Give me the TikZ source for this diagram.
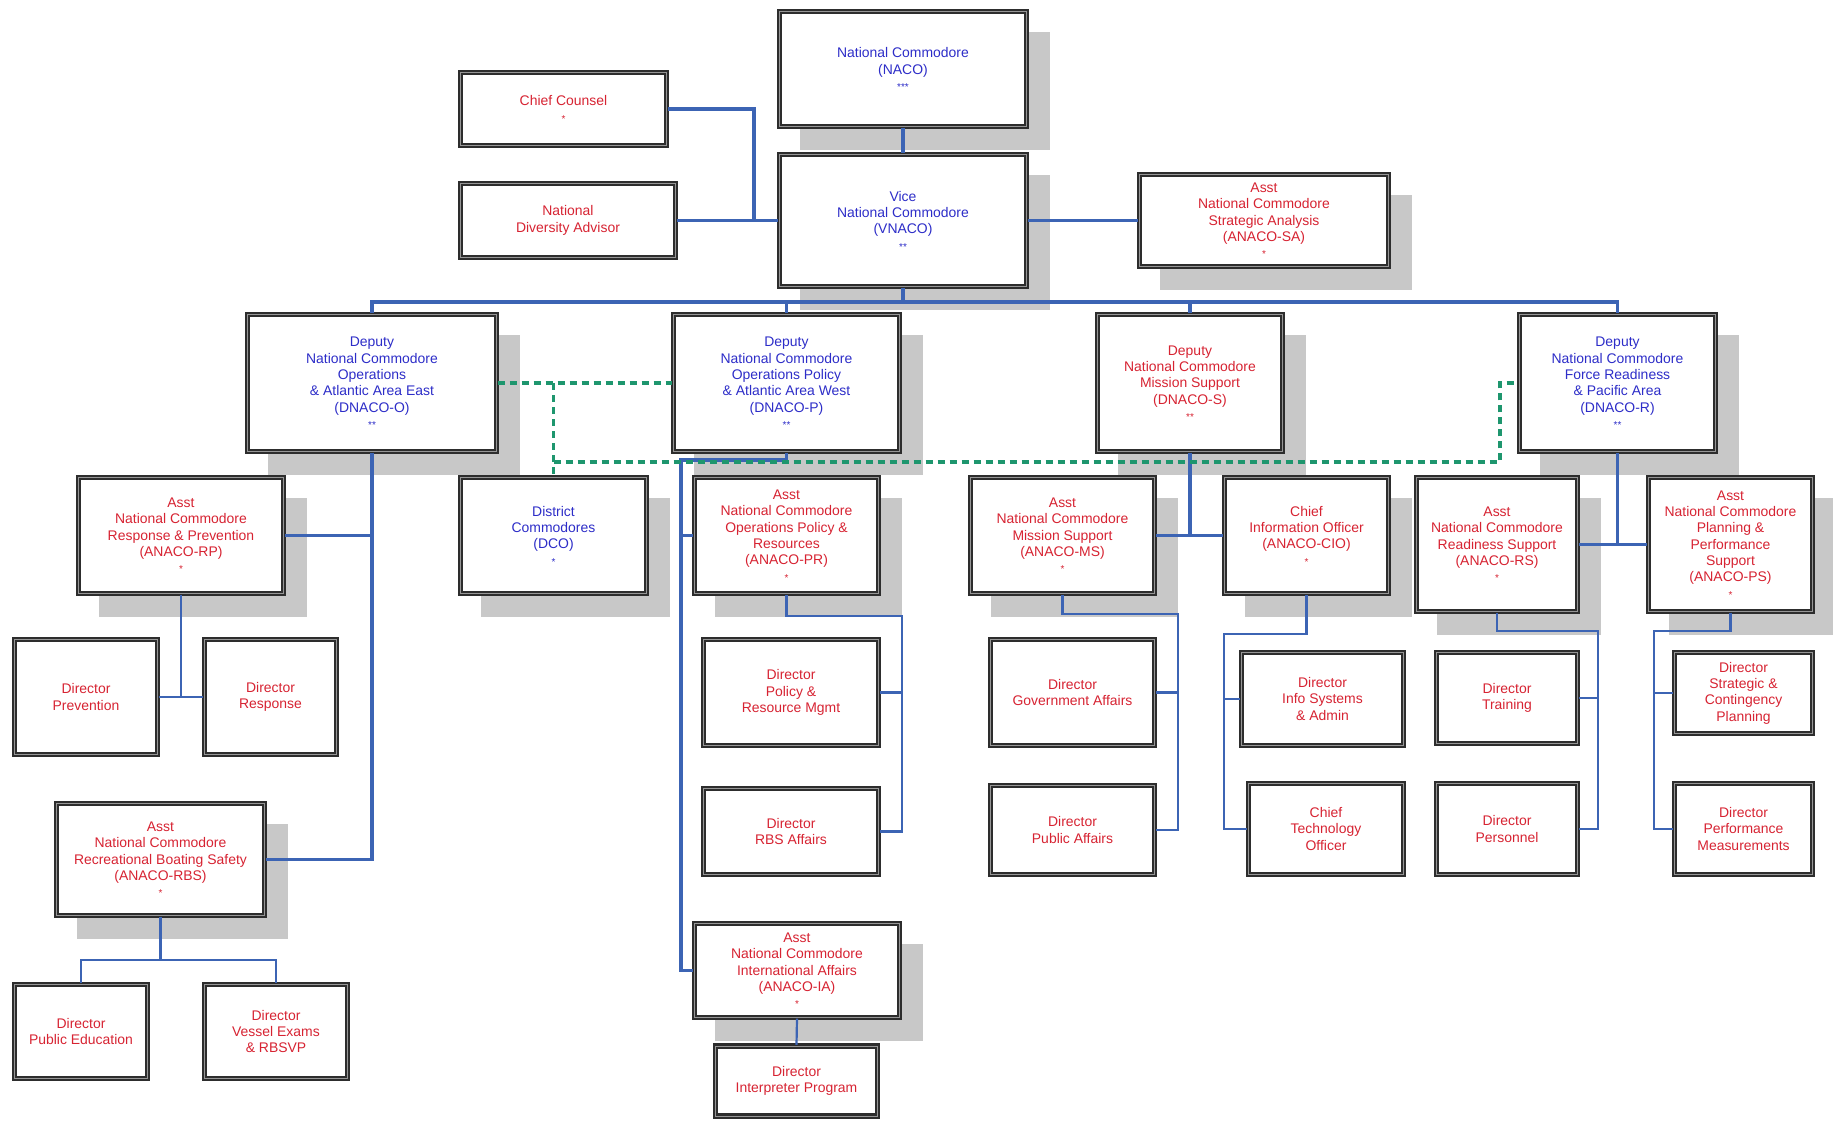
\documentclass[tikz,border=0pt]{standalone}
\usepackage{fontspec}
\setmainfont{Liberation Sans}
\usetikzlibrary{calc}
\pgfdeclarelayer{background}
\pgfsetlayers{background,main}
\definecolor{tblue}{RGB}{45,45,200}
\definecolor{tred}{RGB}{215,35,50}
\definecolor{lblue}{RGB}{60,100,180}
\definecolor{lgreen}{RGB}{30,150,110}
\definecolor{shad}{RGB}{200,200,200}
\definecolor{framec}{RGB}{45,45,45}
\definecolor{frameinc}{RGB}{150,150,150}
\newcommand{\st}[1]{{\fontsize{10}{10}\selectfont #1}}
\begin{document}
\begin{tikzpicture}[x=1bp,y=-1bp,
 box/.style={draw=framec, double=frameinc, double distance=1bp, line width=2.2bp, fill=white, align=center, inner sep=2bp, font=\fontsize{14}{16.4}\selectfont},
 bb/.style={box, text=tblue},
 rb/.style={box, text=tred},
 sz/.style 2 args={minimum width=#1bp, minimum height=#2bp},
 conn/.style={draw=lblue, line width=3.5bp},
 thinc/.style={draw=lblue, line width=2.2bp},
 gdash/.style={draw=lgreen, line width=3.5bp, dash pattern=on 7bp off 5bp},
 shadowbox/.style={fill=shad}
]
\useasboundingbox (0,0) rectangle (1833,1120);

% level 0/1
\node[bb, sz={247}{115}] (naco) at (903,69) {National Commodore\\(NACO)\\\st{***}};
\node[bb, sz={247}{132}] (vnaco) at (903,220.5) {Vice\\National Commodore\\(VNACO)\\\st{**}};
\node[rb, sz={206}{73}] (cc) at (563.5,109) {Chief Counsel\\\st{*}};
\node[rb, sz={215}{74}] (nda) at (568,220.5) {National\\Diversity Advisor};
\node[rb, sz={249}{92}] (sa) at (1264,220.5) {Asst\\National Commodore\\Strategic Analysis\\(ANACO-SA)\\\st{*}};

% deputies
\node[bb, sz={249}{137}] (dno) at (372,383) {Deputy\\National Commodore\\Operations\\\& Atlantic Area East\\(DNACO-O)\\\st{**}};
\node[bb, sz={226}{137}] (dnp) at (786.5,383) {Deputy\\National Commodore\\Operations Policy\\\& Atlantic Area West\\(DNACO-P)\\\st{**}};
\node[rb, sz={185}{137}] (dns) at (1190,383) {Deputy\\National Commodore\\Mission Support\\(DNACO-S)\\\st{**}};
\node[bb, sz={196}{137}] (dnr) at (1617.5,383) {Deputy\\National Commodore\\Force Readiness\\\& Pacific Area\\(DNACO-R)\\\st{**}};

% row 3
\node[rb, sz={205}{116}] (rp) at (181,535.5) {Asst\\National Commodore\\Response \& Prevention\\(ANACO-RP)\\\st{*}};
\node[bb, sz={186}{116}] (dco) at (553.5,535.5) {District\\Commodores\\(DCO)\\\st{*}};
\node[rb, sz={184}{116}] (pr) at (786.5,535.5) {Asst\\National Commodore\\Operations Policy \&\\Resources\\(ANACO-PR)\\\st{*}};
\node[rb, sz={184}{116}] (ms) at (1062.5,535.5) {Asst\\National Commodore\\Mission Support\\(ANACO-MS)\\\st{*}};
\node[rb, sz={164}{116}] (cio) at (1306.5,535.5) {Chief\\Information Officer\\(ANACO-CIO)\\\st{*}};
\node[rb, sz={161}{134}] (rs) at (1497,544.5) {Asst\\National Commodore\\Readiness Support\\(ANACO-RS)\\\st{*}};
\node[rb, sz={164}{134}] (ps) at (1730.5,544.5) {Asst\\National Commodore\\Planning \&\\Performance\\Support\\(ANACO-PS)\\\st{*}};

% directors row 4
\node[rb, sz={143}{115}] (dprev) at (86,697) {Director\\Prevention};
\node[rb, sz={132}{115}] (dresp) at (270.5,697) {Director\\Response};
\node[rb, sz={175}{106}] (dpol) at (791,692.5) {Director\\Policy \&\\Resource Mgmt};
\node[rb, sz={164}{106}] (dgov) at (1072.5,692.5) {Director\\Government Affairs};
\node[rb, sz={162}{93}] (dinfo) at (1322.5,699) {Director\\Info Systems\\\& Admin};
\node[rb, sz={141}{91}] (dtrain) at (1507,698) {Director\\Training};
\node[rb, sz={138}{81}] (dstrat) at (1743.5,693) {Director\\Strategic \&\\Contingency\\Planning};

% directors row 5
\node[rb, sz={175}{86}] (drbs) at (791,831.5) {Director\\RBS Affairs};
\node[rb, sz={164}{89}] (dpub) at (1072.5,830) {Director\\Public Affairs};
\node[rb, sz={155}{91}] (cto) at (1326,829) {Chief\\Technology\\Officer};
\node[rb, sz={141}{91}] (dpers) at (1507,829) {Director\\Personnel};
\node[rb, sz={138}{91}] (dperf) at (1743.5,829) {Director\\Performance\\Measurements};

% lower left / centre
\node[rb, sz={208}{112}] (rbs) at (160.5,859.5) {Asst\\National Commodore\\Recreational Boating Safety\\(ANACO-RBS)\\\st{*}};
\node[rb, sz={205}{94}] (ia) at (797,970.5) {Asst\\National Commodore\\International Affairs\\(ANACO-IA)\\\st{*}};
\node[rb, sz={133}{94}] (dpe) at (81,1031.5) {Director\\Public Education};
\node[rb, sz={143}{94}] (dve) at (276,1031.5) {Director\\Vessel Exams\\\& RBSVP};
\node[rb, sz={162}{70}] (dint) at (796.5,1081) {Director\\Interpreter Program};

% shadows and background
\begin{pgfonlayer}{background}
\fill[white] (0,0) rectangle (1833,1120);
\foreach \n in {naco,vnaco,sa,dno,dnp,dns,dnr,rp,dco,pr,ms,cio,rs,ps,rbs,ia}{
  \fill[shadowbox] ([xshift=22bp,yshift=-22bp]\n.south west) rectangle ([xshift=22bp,yshift=-22bp]\n.north east);
}
\end{pgfonlayer}

% junction coordinates
\coordinate (jcc) at (754,220.5);
\coordinate (bus) at (903,302);
\coordinate (jp) at (681,460);
\coordinate (jpr) at (902,616);
\coordinate (jms) at (1178,614);
\coordinate (jcio) at (1224,634);
\coordinate (jrs) at (1598,631);
\coordinate (jps) at (1654,631);
\coordinate (g1) at (553.5,383);
\coordinate (g2) at (1500,462);

% top connectors
\draw[conn] (naco) -- (vnaco);
\draw[conn] (cc.east) -| (jcc);
\draw[conn] (nda.east) -- (vnaco.west);
\draw[conn] (vnaco.east) -- (sa.west);
\draw[conn] (vnaco.south) -- (bus);
\draw[conn] (dno.north) |- (bus) -| (dnr.north);
\draw[conn] (dnp.north) |- (bus);
\draw[conn] (dns.north) |- (bus);

% DNACO-O branch
\draw[conn] (dno.south) |- (rbs.east);
\draw[conn] (rp.east) -- (rp.east -| dno.south);
\draw[thinc] (rp.south) |- (dprev.east);
\draw[thinc] (dprev.east) -- (dresp.west);
\draw[thinc] (rbs.south) -- ++(0,43);
\draw[thinc] (dpe.north) |- ($(rbs.south)+(0,43)$) -| (dve.north);

% DNACO-P branch
\draw[conn] (dnp.south) |- (jp) |- (ia.west);
\draw[conn] (pr.west) -- (pr.west -| jp);
\draw[thinc] (pr.south) |- (jpr) |- (drbs.east);
\draw[thinc] (dpol.east) -- (dpol.east -| jpr);
\draw[thinc] (ia.south) -- (dint.north);

% DNACO-S branch
\draw[conn] (dns.south) -- (dns.south |- ms.east);
\draw[conn] (ms.east) -- (cio.west);
\draw[thinc] (ms.south) |- (jms) |- (dpub.east);
\draw[thinc] (dgov.east) -- (dgov.east -| jms);
\draw[thinc] (cio.south) |- (jcio) |- (cto.west);
\draw[thinc] (dinfo.west) -- (dinfo.west -| jcio);

% DNACO-R branch
\draw[conn] (dnr.south) -- (dnr.south |- rs.east);
\draw[conn] (rs.east) -- (ps.west);
\draw[thinc] (rs.south) |- (jrs) |- (dpers.east);
\draw[thinc] (dtrain.east) -- (dtrain.east -| jrs);
\draw[thinc] (ps.south) |- (jps) |- (dperf.west);
\draw[thinc] (dstrat.west) -- (dstrat.west -| jps);

% dashed coordination lines
\draw[gdash] (dno.east) -- (dnp.west);
\draw[gdash] (g1) -- (dco.north);
\draw[gdash] (g1 |- g2) -- (g2) |- (dnr.west);
\end{tikzpicture}
\end{document}
